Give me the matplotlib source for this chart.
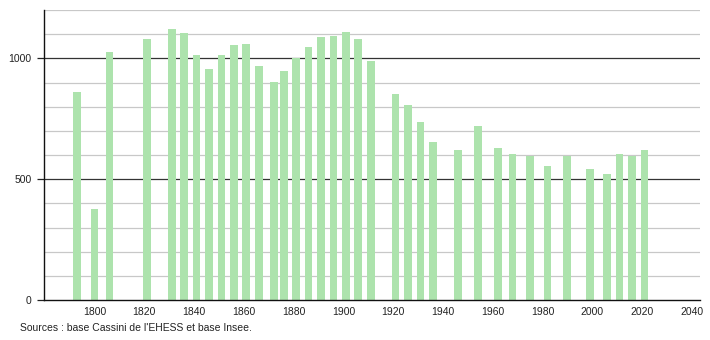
import matplotlib
matplotlib.use("Agg")
import matplotlib.pyplot as plt
from matplotlib.ticker import MultipleLocator, FixedLocator

years = [1793, 1800, 1806, 1821, 1831, 1836, 1841, 1846, 1851, 1856,
         1861, 1866, 1872, 1876, 1881, 1886, 1891, 1896, 1901, 1906,
         1911, 1921, 1926, 1931, 1936, 1946, 1954, 1962, 1968, 1975,
         1982, 1990, 1999, 2006, 2011, 2016, 2021]
population = [861, 375, 1025, 1079, 1121, 1104, 1012, 954, 1012, 1054,
              1058, 969, 903, 946, 1003, 1046, 1087, 1093, 1111, 1079,
              987, 851, 808, 736, 653, 621, 719, 629, 603, 597,
              553, 597, 542, 521, 603, 597, 621]
xticks = [1800, 1820, 1840, 1860, 1880, 1900, 1920, 1940, 1960, 1980, 2000, 2020, 2040]
yticks = [0, 500, 1000]
source = "Sources : base Cassini de l'EHESS et base Insee."

plt.rcParams['font.family'] = ['Liberation Sans', 'DejaVu Sans']

fig = plt.figure(figsize=(7.1, 3.4), dpi=100)
ax = fig.add_axes([44/710, 40/340, 656/710, 290/340])

# grid lines
for v in range(100, 1201, 100):
    if v % 500 == 0:
        ax.axhline(v, color='#333333', lw=0.9, zorder=1)
    else:
        ax.axhline(v, color='#c8c8c8', lw=0.9, zorder=1)

ax.bar(years, population, width=3.1, color='#ade3ad', zorder=2, linewidth=0)

ax.set_xlim(1779.7, 2043.3)
ax.set_ylim(0, 1200)

ax.xaxis.set_major_locator(FixedLocator(xticks))
ax.yaxis.set_major_locator(FixedLocator(yticks))
ax.tick_params(axis='x', length=0, pad=5, labelsize=7.5, colors='#222222')
ax.tick_params(axis='y', length=5, width=0.9, pad=4, labelsize=7.5, colors='#222222')

for s in ['top', 'right']:
    ax.spines[s].set_visible(False)
for s in ['left', 'bottom']:
    ax.spines[s].set_color('#111111')
    ax.spines[s].set_linewidth(1.0)

fig.text(20/710, 1 - 328/340, source, fontsize=7.5, color='#222222', va='center', ha='left')

fig.savefig("out.png", dpi=100)
